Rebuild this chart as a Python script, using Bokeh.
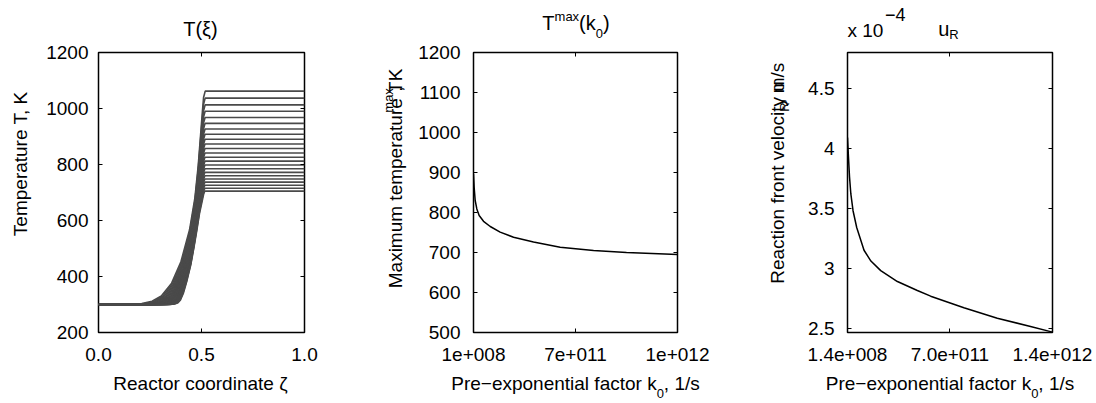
import numpy as np
from bokeh.plotting import figure
from bokeh.layouts import row, column
from bokeh.models import Label, LinearAxis, FixedTicker, CustomJSTickFormatter, Range1d
from bokeh.embed import file_html
from bokeh.resources import INLINE

# ---------------- data ----------------
# Panel 1: temperature profiles T(xi) for a family of runs
T_inlet = 300.0
front_end = 0.51
plateau_T = [1062, 1037, 1013, 990, 968, 947, 927, 908, 890, 873, 857, 841,
             826, 812, 798, 785, 772, 760, 748, 737, 726, 715, 705]
# fraction of the rise (T-T_inlet)/(Tmax-T_inlet) versus distance ahead of the front end,
# read off the hottest and the coolest profile
rise_fraction = [1.0, 0.97, 0.9, 0.8, 0.65, 0.5, 0.35, 0.2, 0.1, 0.04, 0.015, 0.004, 0.0]
rise_dist_hot = [-0.008, 0.0, 0.006, 0.014, 0.026, 0.042, 0.068, 0.11, 0.155, 0.205, 0.25, 0.30, 0.36]
rise_dist_cool = [-0.006, 0.0, 0.008, 0.02, 0.033, 0.047, 0.062, 0.082, 0.098, 0.112, 0.124, 0.14, 0.16]

# Panel 2: maximum temperature vs pre-exponential factor
k0_Tmax = [1.4e8, 4.6e9, 1.17e10, 2.3e10, 3.9e10, 6.9e10, 1.15e11, 1.83e11, 2.75e11,
           4.12e11, 5.95e11, 8.24e11, 1.05e12, 1.4e12]
Tmax = [897, 863, 830, 809, 792.5, 778, 765, 751, 738, 726, 713, 705, 700, 695]

# Panel 3: reaction front velocity (units of 1e-4 m/s) vs pre-exponential factor
k0_u = [1.4e8, 6.8e9, 1.4e10, 2.3e10, 3.8e10, 6.3e10, 1.13e11, 1.6e11, 2.27e11, 3.41e11,
        4.77e11, 5.68e11, 7.95e11, 1.023e12, 1.25e12, 1.4e12]
u_R = [4.09, 3.925, 3.76, 3.62, 3.48, 3.34, 3.15, 3.06, 2.98, 2.889,
       2.814, 2.767, 2.67, 2.583, 2.514, 2.467]

# tick labels
p1_xticks, p1_xlabels = [0.0, 0.5, 1.0], ["0.0", "0.5", "1.0"]
p1_yticks, p1_ylabels = [200, 400, 600, 800, 1000, 1200], ["200", "400", "600", "800", "1000", "1200"]
k_ticks = [1.4e8, 7.0e11, 1.4e12]
p2_xlabels = ["1e+008", "7e+011", "1e+012"]
p2_yticks = [500, 600, 700, 800, 900, 1000, 1100, 1200]
p2_ylabels = ["500", "600", "700", "800", "900", "1000", "1100", "1200"]
p3_xlabels = ["1.4e+008", "7.0e+011", "1.4e+012"]
p3_yticks, p3_ylabels = [2.5, 3.0, 3.5, 4.0, 4.5], ["2.5", "3", "3.5", "4", "4.5"]

# ---------------- helpers ----------------
FONT = "Liberation Sans"
AW = {' ': 278, ',': 278, '\u2212': 584, '-': 333, '(': 333, ')': 333, '/': 278, '.': 278, '+': 584,
      'A': 667, 'K': 667, 'M': 833, 'P': 667, 'R': 722, 'T': 611,
      'a': 556, 'c': 500, 'e': 556, 'f': 278, 'i': 222, 'k': 500, 'l': 222, 'm': 833, 'n': 556,
      'o': 556, 'p': 556, 'r': 333, 's': 500, 't': 278, 'u': 556, 'v': 500, 'x': 500, 'y': 500}
MID = 0.35  # distance from alphabetic baseline to the middle of the text box, in em


def tw(s, size):
    return sum(AW.get(c, 556) for c in s) * size / 1000.0


W_TOTAL = 1094
TITLE_H = 42          # title strip: page y 0..42
ROW_TOP = TITLE_H     # plots row: page y 42..372
PLOT_TOP, FH, PLOT_BOT = 10, 280, 40
ROW_BOT = ROW_TOP + PLOT_TOP + FH + PLOT_BOT
XLAB_BOT = 402


def tick_formatter(vals, labels):
    return CustomJSTickFormatter(args=dict(vals=vals, labels=labels), code="""
        let b = 0;
        for (let i = 0; i < vals.length; i++) {
            if (Math.abs(vals[i] - tick) < Math.abs(vals[b] - tick)) b = i;
        }
        return labels[b];
    """)


def make_fig(bl, fw, br, xr, yr, xt, xl, yt, yl, ystand):
    p = figure(frame_width=fw, frame_height=FH, min_border_left=bl, min_border_right=br,
               min_border_top=PLOT_TOP, min_border_bottom=PLOT_BOT, x_range=xr, y_range=yr,
               output_backend="svg", toolbar_location=None, title=None)
    p.grid.visible = False
    p.outline_line_color = "black"
    p.outline_line_width = 1.5
    p.background_fill_color = "white"
    p.border_fill_color = "white"
    for ax, t, l in ((p.xaxis[0], xt, xl), (p.yaxis[0], yt, yl)):
        ax.ticker = FixedTicker(ticks=t)
        ax.formatter = tick_formatter(t, l)
        ax.axis_line_color = None
        ax.major_tick_in = 4
        ax.major_tick_out = 0
        ax.major_tick_line_color = "black"
        ax.minor_tick_line_color = None
        ax.major_label_text_font = FONT
        ax.major_label_text_font_size = "19px"
        ax.major_label_text_color = "black"
    p.xaxis.major_label_standoff = 15
    p.yaxis.major_label_standoff = ystand
    for t, loc in ((yt, "right"), (xt, "above")):
        ax = LinearAxis(ticker=FixedTicker(ticks=t), formatter=CustomJSTickFormatter(code="return '';"),
                        major_tick_in=4, major_tick_out=0, minor_tick_line_color=None,
                        axis_line_color=None, major_tick_line_color="black",
                        major_label_standoff=0, major_label_text_font_size="1px")
        p.add_layout(ax, loc)
    return p


def strip(x0, x1, y0, y1):
    """A text-only panel whose data coordinates are page pixels (y grows downward)."""
    s = figure(width=x1 - x0, height=y1 - y0, x_range=Range1d(x0, x1), y_range=Range1d(y1, y0),
               min_border_left=0, min_border_right=0, min_border_top=0, min_border_bottom=0,
               x_axis_location=None, y_axis_location=None, output_backend="svg",
               toolbar_location=None, title=None)
    s.grid.visible = False
    s.outline_line_color = None
    s.background_fill_color = "white"
    s.border_fill_color = "white"
    return s


def rich(s, x0, y0, parts, rotated=False, center=False):
    """Place text runs along one baseline (x0, y0 = start/centre of the baseline in page px)."""
    total = sum(tw(t, sz) for t, sz, _ in parts)
    pos = -total / 2 if center else 0.0
    for text, size, shift in parts:
        if rotated:
            px, py = x0 + shift - MID * size, y0 - pos
        else:
            px, py = x0 + pos, y0 + shift - MID * size
        s.add_layout(Label(x=px, y=py, text=text, text_font=FONT, text_font_size=f"{size}px",
                           angle=(np.pi / 2 if rotated else 0.0), text_align="left",
                           text_baseline="middle", text_color="black"))
        pos += tw(text, size)


# ---------------- panel 1 ----------------
p1 = make_fig(58, 206, 66, Range1d(0, 1), Range1d(200, 1200), p1_xticks, p1_xlabels,
              p1_yticks, p1_ylabels, 10)
t_hi, t_lo = max(plateau_T), min(plateau_T)
for Tm in plateau_T:
    lam = (Tm - t_lo) / (t_hi - t_lo)
    zs = [0.0]
    ts = [T_inlet]
    for f, dh, dc in reversed(list(zip(rise_fraction, rise_dist_hot, rise_dist_cool))):
        zs.append(front_end - (dc + (dh - dc) * lam))
        ts.append(T_inlet + (Tm - T_inlet) * f)
    zs.append(1.0)
    ts.append(Tm)
    p1.line(zs, ts, line_color="#4a4a4a", line_width=1.6)

# ---------------- panel 2 ----------------
p2 = make_fig(61, 204, 83, Range1d(1.4e8, 1.4e12), Range1d(500, 1200), k_ticks, p2_xlabels,
              p2_yticks, p2_ylabels, 13)
p2.line(k0_Tmax, Tmax, line_color="black", line_width=1.5)

# ---------------- panel 3 ----------------
p3 = make_fig(47, 205, 42, Range1d(1.4e8, 1.4e12), Range1d(2.464, 4.8), k_ticks, p3_xlabels,
              p3_yticks, p3_ylabels, 13)
p3.line(k0_u, u_R, line_color="black", line_width=1.5)

# ---------------- text strips ----------------
top = strip(0, W_TOTAL, 0, TITLE_H)
rich(top, 201, 35, [("T(\u03be)", 20, 0)], center=True)
rich(top, 575.5, 29.3, [("T", 20, 0), ("max", 13, -9), ("(k", 20, 0), ("0", 13, 8), (")", 20, 0)], center=True)
rich(top, 948, 35.5, [("u", 20, 0), ("R", 13, 3)], center=True)
rich(top, 847, 36.5, [("x 10", 19, 0)])
rich(top, 884.5, 20, [("\u22124", 18, 0)])

yl1 = strip(0, 40, ROW_TOP, ROW_BOT)
rich(yl1, 26.5, 184, [("Temperature T, K", 19, 0)], rotated=True, center=True)
yl2 = strip(370, 412, ROW_TOP, ROW_BOT)
rich(yl2, 401.5, 192.5, [("Maximum temperature T", 19, 0), ("max", 13, -9), (", K", 19, 0)],
     rotated=True, center=True)
yl3 = strip(760, 800, ROW_TOP, ROW_BOT)
rich(yl3, 784, 188, [("Reaction front velocity u", 19, 0), ("R", 13, 5), (", m/s", 19, 0)],
     rotated=True, center=True)

bot = strip(0, W_TOTAL, ROW_BOT, XLAB_BOT)
rich(bot, 201, 389.5, [("Reactor coordinate \u03b6", 19, 0)], center=True)
rich(bot, 575, 389.5, [("Pre\u2212exponential factor k", 19, 0), ("0", 13, 8), (", 1/s", 19, 0)], center=True)
rich(bot, 949.5, 389.5, [("Pre\u2212exponential factor k", 19, 0), ("0", 13, 8), (", 1/s", 19, 0)], center=True)

layout = column(top, row(yl1, p1, yl2, p2, yl3, p3), bot)
open("out.html", "w").write(file_html(layout, INLINE))
